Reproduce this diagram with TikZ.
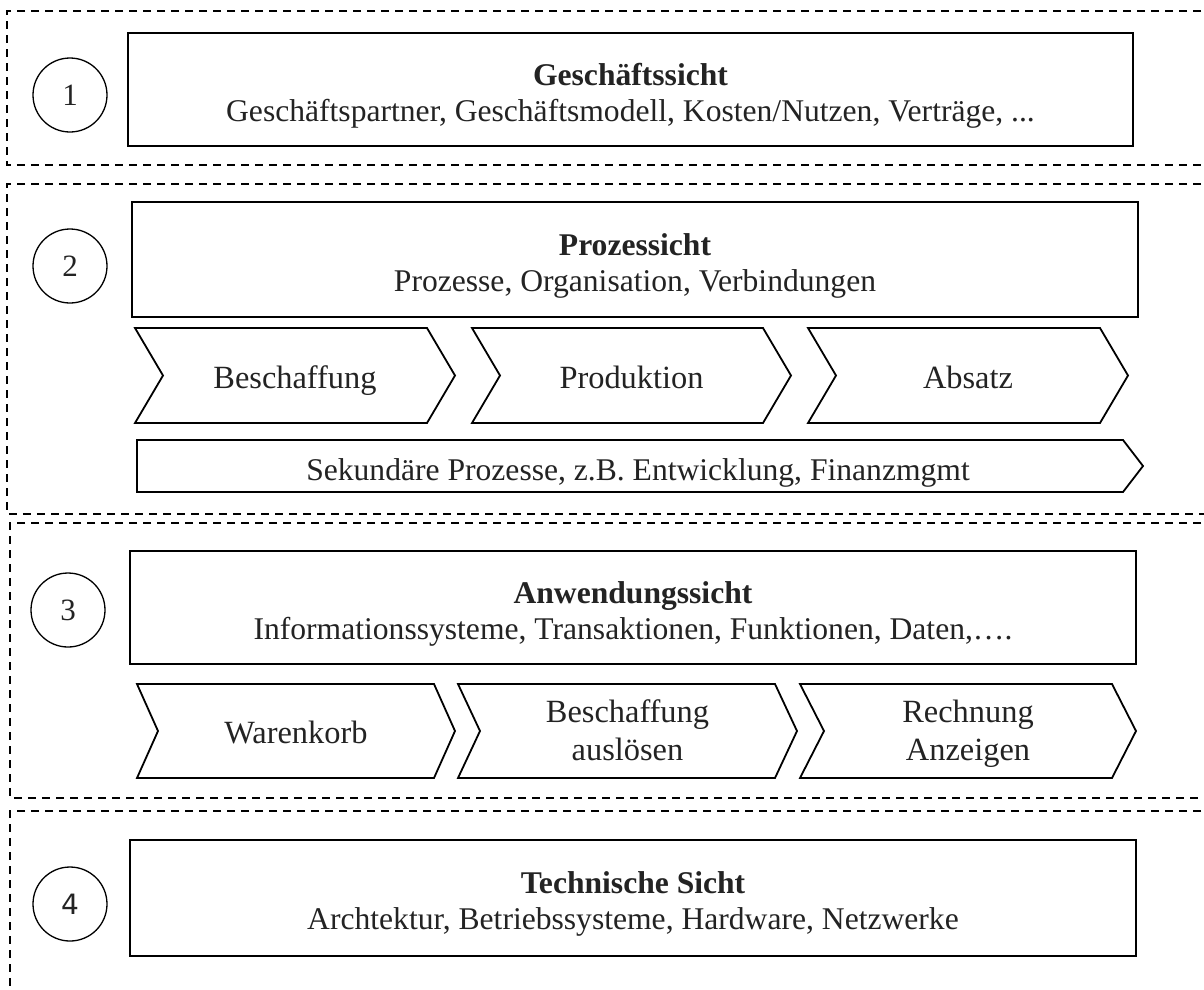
\documentclass[tikz,border=0pt]{standalone}
\usepackage{fontspec}
\setmainfont{Liberation Serif}
\newfontfamily\numsans{DejaVu Sans}
\definecolor{txt}{HTML}{232323}
% line struts: box text (36pt lines) and chevron text (38pt lines)
\newcommand\boxstrut{\vrule width0pt height25pt depth11pt\relax}
\newcommand\chevstrut{\vrule width0pt height27pt depth11pt\relax}
\begin{document}
\begin{tikzpicture}[x=1pt,y=-1pt,
  zone/.style={draw=black, line width=1.4pt, dash pattern=on 8pt off 6pt},
  num/.style={circle, draw=black, line width=1.3pt, minimum size=74pt, inner sep=0pt,
    font=\fontsize{31}{36}\selectfont, text=txt},
  viewbox/.style={draw=black, line width=2pt, inner sep=0pt},
  boxtext/.style={align=center, inner sep=0pt, font=\fontsize{31.6}{36}\selectfont, text=txt},
  chevpath/.style={draw=black, line width=1.8pt, line join=miter},
  chevtext/.style={align=center, inner sep=0pt, font=\fontsize{32.4}{38}\selectfont, text=txt}
]
\useasboundingbox (0,0) rectangle (1204,989);
\clip (0,0) rectangle (1204,989);
\fill[white] (0,0) rectangle (1204,989);

% chevron: #1 name, #2 left x, #3 tip x, #4 top y, #5 bottom y, #6 depth, #7 text y, #8 text
\newcommand\chevron[8]{%
  \draw[chevpath] (#2,#4) -- ({#3-#6},#4) -- (#3,{(#4+#5)/2}) -- ({#3-#6},#5)
    -- (#2,#5) -- ({#2+#6},{(#4+#5)/2}) -- cycle;
  \node[chevtext] (#1) at ({(#2+#3)/2},#7) {#8};}

% dashed zones, open to the right (and bottom for the last)
\draw[zone] (1215,11) -- (7,11) -- (7,165) -- (1215,165);
\draw[zone] (1215,184) -- (7,184) -- (7,514) -- (1215,514);
\draw[zone] (1215,523) -- (10,523) -- (10,798) -- (1215,798);
\draw[zone] (1215,811) -- (10,811) -- (10,1000);

% numbers
\node[num] (n1) at (70,95) {1};
\node[num] (n2) at (70,266) {2};
\node[num] (n3) at (68,610) {3};
\node[num, font=\numsans\fontsize{28}{34}\selectfont] (n4) at (70,904) {4};

% view boxes
\node[viewbox, minimum width=1005pt, minimum height=113pt] (b1) at (630.5,89.5) {};
\node[boxtext] (t1) at (630.5,96)
  {\boxstrut\textbf{Geschäftssicht}\\\boxstrut Geschäftspartner, Geschäftsmodell, Kosten/Nutzen, Verträge, ...};

\node[viewbox, minimum width=1006pt, minimum height=115pt] (b2) at (635,259.5) {};
\node[boxtext] (t2) at (635,266)
  {\boxstrut\textbf{Prozessicht}\\\boxstrut Prozesse, Organisation, Verbindungen};

\node[viewbox, minimum width=1006pt, minimum height=113pt] (b3) at (633,607.5) {};
\node[boxtext] (t3) at (633,614)
  {\boxstrut\textbf{Anwendungssicht}\\\boxstrut Informationssysteme, Transaktionen, Funktionen, Daten,\dots.};

\node[viewbox, minimum width=1006pt, minimum height=116pt] (b4) at (633,898) {};
\node[boxtext] (t4) at (633,904.5)
  {\boxstrut\textbf{Technische Sicht}\\\boxstrut Archtektur, Betriebssysteme, Hardware, Netzwerke};

% process chain
\chevron{p1}{135}{455}{328}{423}{28}{380.5}{\chevstrut Beschaffung}
\chevron{p2}{472}{791}{328}{423}{28}{380.5}{\chevstrut Produktion}
\chevron{p3}{808}{1128}{328}{423}{28}{380.5}{\chevstrut Absatz}

% secondary processes
\draw[chevpath] (137,440) -- (1123,440) -- (1143,466) -- (1123,492) -- (137,492) -- cycle;
\node[chevtext, font=\fontsize{31.6}{38}\selectfont] (sek) at (638,472)
  {\chevstrut Sekundäre Prozesse, z.B. Entwicklung, Finanzmgmt};

% application chain
\chevron{a1}{137}{455}{684}{778}{21}{735}{\chevstrut Warenkorb}
\chevron{a2}{458}{797}{684}{778}{22}{733}{\chevstrut Beschaffung\\\chevstrut auslösen}
\chevron{a3}{800}{1136}{684}{778}{24}{733}{\chevstrut Rechnung\\\chevstrut Anzeigen}
\end{tikzpicture}
\end{document}
